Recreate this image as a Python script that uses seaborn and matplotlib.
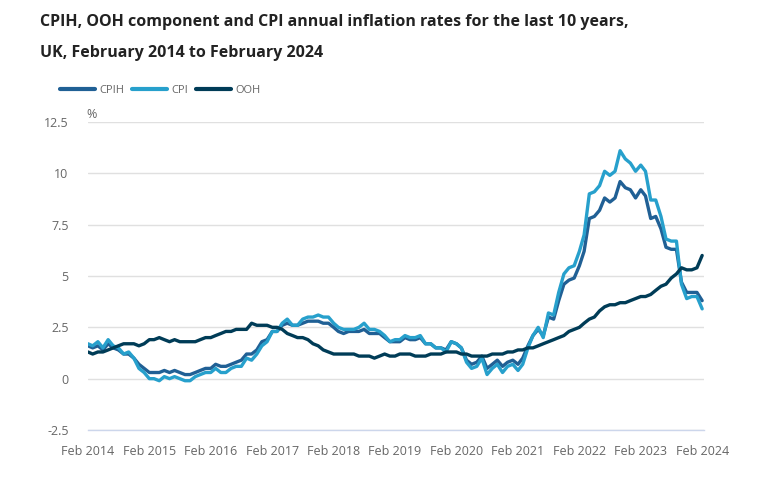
import seaborn as sns
import matplotlib.pyplot as plt
import matplotlib.dates as mdates
import pandas as pd

# monthly annual rates, Feb 2014 .. Feb 2024
cpih = [1.6, 1.5, 1.6, 1.4, 1.7, 1.5, 1.4, 1.2, 1.2, 1.0, 0.7,
        0.5, 0.3, 0.3, 0.3, 0.4, 0.3, 0.4, 0.3, 0.2, 0.2, 0.3, 0.4,
        0.5, 0.5, 0.7, 0.6, 0.6, 0.7, 0.8, 0.9, 1.2, 1.2, 1.4, 1.8,
        1.9, 2.3, 2.3, 2.6, 2.7, 2.6, 2.6, 2.7, 2.8, 2.8, 2.8, 2.7,
        2.7, 2.5, 2.3, 2.2, 2.3, 2.3, 2.3, 2.4, 2.2, 2.2, 2.2, 2.0,
        1.8, 1.8, 1.8, 2.0, 1.9, 1.9, 2.0, 1.7, 1.7, 1.5, 1.5, 1.4,
        1.8, 1.7, 1.5, 0.9, 0.7, 0.8, 1.1, 0.5, 0.7, 0.9, 0.6, 0.8,
        0.9, 0.7, 1.0, 1.6, 2.1, 2.4, 2.1, 3.0, 2.9, 3.8, 4.6, 4.8,
        4.9, 5.5, 6.2, 7.8, 7.9, 8.2, 8.8, 8.6, 8.8, 9.6, 9.3, 9.2,
        8.8, 9.2, 8.9, 7.8, 7.9, 7.3, 6.4, 6.3, 6.3, 4.7, 4.2, 4.2,
        4.2, 3.8]
cpi = [1.7, 1.6, 1.8, 1.5, 1.9, 1.6, 1.5, 1.2, 1.3, 1.0, 0.5,
       0.3, 0.0, 0.0, -0.1, 0.1, 0.0, 0.1, 0.0, -0.1, -0.1, 0.1, 0.2,
       0.3, 0.3, 0.5, 0.3, 0.3, 0.5, 0.6, 0.6, 1.0, 0.9, 1.2, 1.6,
       1.8, 2.3, 2.3, 2.7, 2.9, 2.6, 2.6, 2.9, 3.0, 3.0, 3.1, 3.0,
       3.0, 2.7, 2.5, 2.4, 2.4, 2.4, 2.5, 2.7, 2.4, 2.4, 2.3, 2.1,
       1.8, 1.9, 1.9, 2.1, 2.0, 2.0, 2.1, 1.7, 1.7, 1.5, 1.5, 1.3,
       1.8, 1.7, 1.5, 0.8, 0.5, 0.6, 1.0, 0.2, 0.5, 0.7, 0.3, 0.6,
       0.7, 0.4, 0.7, 1.5, 2.1, 2.5, 2.0, 3.2, 3.1, 4.2, 5.1, 5.4,
       5.5, 6.2, 7.0, 9.0, 9.1, 9.4, 10.1, 9.9, 10.1, 11.1, 10.7, 10.5,
       10.1, 10.4, 10.1, 8.7, 8.7, 7.9, 6.8, 6.7, 6.7, 4.6, 3.9, 4.0,
       4.0, 3.4]
ooh = [1.3, 1.2, 1.3, 1.3, 1.4, 1.5, 1.6, 1.7, 1.7, 1.7, 1.6,
       1.7, 1.9, 1.9, 2.0, 1.9, 1.8, 1.9, 1.8, 1.8, 1.8, 1.8, 1.9,
       2.0, 2.0, 2.1, 2.2, 2.3, 2.3, 2.4, 2.4, 2.4, 2.7, 2.6, 2.6,
       2.6, 2.5, 2.5, 2.4, 2.2, 2.1, 2.0, 2.0, 1.9, 1.7, 1.6, 1.4,
       1.3, 1.2, 1.2, 1.2, 1.2, 1.2, 1.1, 1.1, 1.1, 1.0, 1.1, 1.2,
       1.1, 1.1, 1.2, 1.2, 1.2, 1.1, 1.1, 1.1, 1.2, 1.2, 1.2, 1.3,
       1.3, 1.3, 1.2, 1.2, 1.1, 1.1, 1.1, 1.1, 1.2, 1.2, 1.2, 1.3,
       1.3, 1.4, 1.4, 1.5, 1.5, 1.6, 1.7, 1.8, 1.9, 2.0, 2.1, 2.3,
       2.4, 2.5, 2.7, 2.9, 3.0, 3.3, 3.5, 3.6, 3.6, 3.7, 3.7, 3.8,
       3.9, 4.0, 4.0, 4.1, 4.3, 4.5, 4.6, 4.9, 5.1, 5.4, 5.3, 5.3,
       5.4, 6.0]
series_names = ['CPIH', 'CPI', 'OOH']
colors = {'CPIH': '#206095', 'CPI': '#27a0cc', 'OOH': '#003c57'}
y_ticks = [-2.5, 0, 2.5, 5, 7.5, 10, 12.5]
x_tick_years = list(range(2014, 2025))

dates = pd.date_range('2014-02-01', periods=len(cpi), freq='MS')
df = pd.DataFrame({'date': dates, 'CPIH': cpih, 'CPI': cpi, 'OOH': ooh})
long_df = df.melt(id_vars='date', var_name='series', value_name='rate')

sns.set_style('white')
plt.rcParams['font.family'] = ['Open Sans', 'DejaVu Sans']

fig = plt.figure(figsize=(7.75, 4.78), dpi=100)
ax = fig.add_axes([0.1135, 0.1004, 0.7949, 0.6444])

sns.lineplot(data=long_df, x='date', y='rate', hue='series', hue_order=series_names,
             palette=colors, linewidth=2.4, ax=ax, legend=False)

ax.set_ylim(-2.5, 12.5)
ax.set_xlim(pd.Timestamp('2014-02-01'), pd.Timestamp('2024-02-12'))
ax.set_yticks(y_ticks)
ax.set_yticklabels([f'{v:g}' for v in y_ticks])
ax.set_xticks([pd.Timestamp(f'{y}-02-01') for y in x_tick_years])
ax.xaxis.set_major_formatter(mdates.DateFormatter('Feb %Y'))
ax.set_xlabel('')
ax.set_ylabel('')

ax.grid(axis='y', color='#e0e0e0', linewidth=1)
ax.grid(axis='x', visible=False)
for side in ['top', 'right', 'left']:
    ax.spines[side].set_visible(False)
ax.spines['bottom'].set_color('#ccd6eb')
ax.spines['bottom'].set_linewidth(1)
ax.tick_params(axis='x', colors='#ccd6eb', length=9, width=1, labelcolor='#666666',
               labelsize=9, pad=1.5)
ax.tick_params(axis='y', length=0, labelcolor='#666666', labelsize=9, pad=14)

ax.text(-0.003, 1.024, '%', transform=ax.transAxes, fontsize=9, color='#666666',
        ha='left', va='center')

handles = [plt.Line2D([], [], color=colors[s], linewidth=3) for s in series_names]
fig.legend(handles, series_names, loc='center left', bbox_to_anchor=(0.0775, 0.811),
           ncol=3, frameon=False, fontsize=8, handlelength=3.15, handletextpad=0.36,
           columnspacing=0.75, labelcolor='#666666', borderaxespad=0, borderpad=0)

fig.text(0.052, 0.953, 'CPIH, OOH component and CPI annual inflation rates for the last 10 years,',
         fontsize=11.5, fontweight='bold', color='#222222', va='center', ha='left')
fig.text(0.052, 0.889, 'UK, February 2014 to February 2024',
         fontsize=11.5, fontweight='bold', color='#222222', va='center', ha='left')

fig.savefig('out.png', dpi=100)
